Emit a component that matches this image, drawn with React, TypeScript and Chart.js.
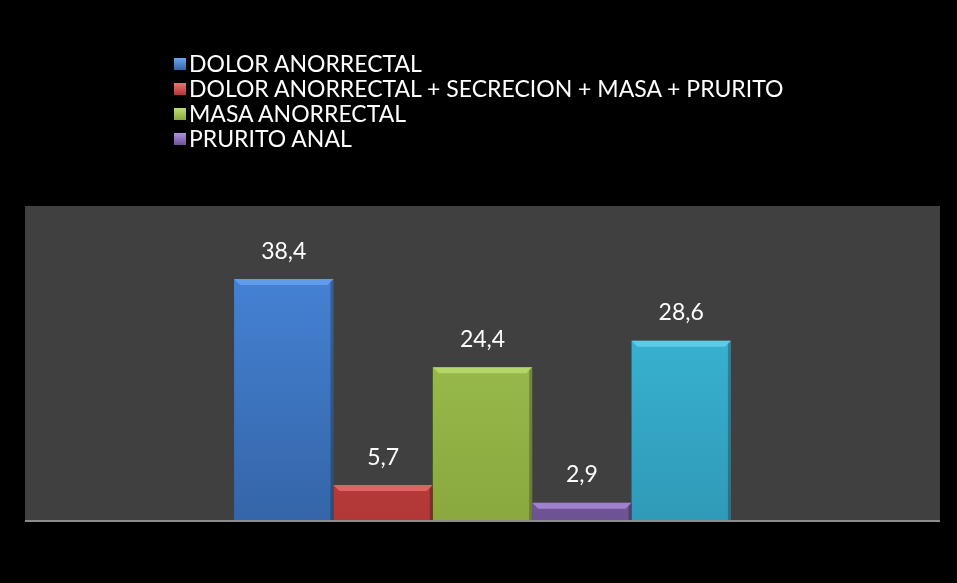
import React, { useEffect, useRef } from "react";
import { Chart, registerables } from "chart.js";

Chart.register(...registerables);

const categories = [""];
const seriesLabels = [
  "DOLOR ANORRECTAL",
  "DOLOR ANORRECTAL + SECRECION + MASA + PRURITO",
  "MASA ANORRECTAL",
  "PRURITO ANAL",
  "OTROS",
];
const seriesValues = [38.4, 5.7, 24.4, 2.9, 28.6];
const legendShown = [true, true, true, true, false];
const topColors = ["#4a8ae0", "#d84a48", "#a5c955", "#8a6bb5", "#3fc0e0"];
const bottomColors = ["#3465a8", "#b03836", "#8aa83e", "#6d5294", "#2f9ab8"];
const bevelColors = ["#6aa6f0", "#f07070", "#bde070", "#b090e0", "#6ad4f0"];
const baseColors = ["#4080d0", "#c84040", "#9bbb4a", "#7f60a8", "#38b4d4"];

const FONT = "Lato, 'Open Sans', sans-serif";

const bgPlugin = {
  id: "plotBg",
  beforeDraw(chart: any) {
    const { ctx, chartArea } = chart;
    ctx.save();
    ctx.fillStyle = "#000000";
    ctx.fillRect(0, 0, chart.width, chart.height);
    ctx.fillStyle = "#404040";
    ctx.fillRect(chartArea.left, chartArea.top, chartArea.right - chartArea.left, chartArea.bottom - chartArea.top);
    ctx.restore();
  },
  afterDatasetsDraw(chart: any) {
    const { ctx, chartArea } = chart;
    ctx.save();
    // bevel highlight on bar tops
    chart.data.datasets.forEach((ds: any, i: number) => {
      const meta = chart.getDatasetMeta(i);
      meta.data.forEach((el: any) => {
        const half = el.width / 2;
        const l = el.x - half;
        const r = el.x + half;
        const t = el.y;
        const b = el.base;
        const d = Math.min(6, (b - t) / 2);
        ctx.fillStyle = bevelColors[i];
        ctx.globalAlpha = 0.75;
        ctx.beginPath();
        ctx.moveTo(l, t);
        ctx.lineTo(r, t);
        ctx.lineTo(r - d, t + d);
        ctx.lineTo(l + d, t + d);
        ctx.closePath();
        ctx.fill();
        ctx.globalAlpha = 0.25;
        ctx.fillStyle = "#000";
        ctx.beginPath();
        ctx.moveTo(r, t);
        ctx.lineTo(r, b);
        ctx.lineTo(r - 3, b);
        ctx.lineTo(r - 3, t + 3);
        ctx.closePath();
        ctx.fill();
        ctx.globalAlpha = 1;
      });
    });
    ctx.strokeStyle = "#8c8c8c";
    ctx.lineWidth = 2;
    ctx.beginPath();
    ctx.moveTo(chartArea.left, chartArea.bottom);
    ctx.lineTo(chartArea.right, chartArea.bottom);
    ctx.stroke();
    ctx.fillStyle = "#ffffff";
    ctx.font = `23px ${FONT}`;
    ctx.textAlign = "center";
    ctx.textBaseline = "middle";
    chart.data.datasets.forEach((ds: any, i: number) => {
      const meta = chart.getDatasetMeta(i);
      meta.data.forEach((el: any, j: number) => {
        const v = ds.data[j];
        ctx.fillText(String(v).replace(".", ","), el.x, el.y - 28);
      });
    });
    ctx.restore();
  },
};

export default function App() {
  const ref = useRef<HTMLCanvasElement>(null);
  useEffect(() => {
    if (!ref.current) return;
    const chart = new Chart(ref.current, {
      type: "bar",
      data: {
        labels: categories,
        datasets: seriesLabels.map((label, i) => ({
          label,
          data: [seriesValues[i]],
          backgroundColor: (c: any) => {
            const ca = c.chart.chartArea;
            if (!ca) return baseColors[i];
            const g = c.chart.ctx.createLinearGradient(0, ca.top, 0, ca.bottom);
            g.addColorStop(0, topColors[i]);
            g.addColorStop(1, bottomColors[i]);
            return g;
          },
          borderWidth: 0,
          categoryPercentage: 0.543,
          barPercentage: 1,
        })),
      },
      options: {
        animation: false,
        responsive: true,
        maintainAspectRatio: false,
        layout: { padding: { left: 25, top: 206, right: 17, bottom: 62 } },
        scales: {
          x: { display: false },
          y: { display: false, min: 0, max: 50 },
        },
        plugins: {
          legend: { display: false },
          tooltip: { enabled: false },
        },
      },
      plugins: [bgPlugin],
    });
    return () => chart.destroy();
  }, []);

  return (
    <div style={{ position: "fixed", left: 0, top: 0, width: 957, height: 583, background: "#000" }}>
      <canvas ref={ref} />
      <div
        style={{
          position: "absolute",
          left: 174,
          top: 51,
          display: "flex",
          flexDirection: "column",
          color: "#fff",
          fontFamily: FONT,
          fontSize: 23,
          lineHeight: "25px",
        }}
      >
        {seriesLabels.map((l, i) =>
          legendShown[i] ? (
            <div key={l} style={{ display: "flex", alignItems: "center", whiteSpace: "nowrap" }}>
              <span
                style={{
                  display: "inline-block",
                  width: 12,
                  height: 12,
                  marginRight: 3,
                  background: `linear-gradient(${bevelColors[i]}, ${bottomColors[i]})`,
                }}
              />
              <span>{l}</span>
            </div>
          ) : null
        )}
      </div>
    </div>
  );
}
